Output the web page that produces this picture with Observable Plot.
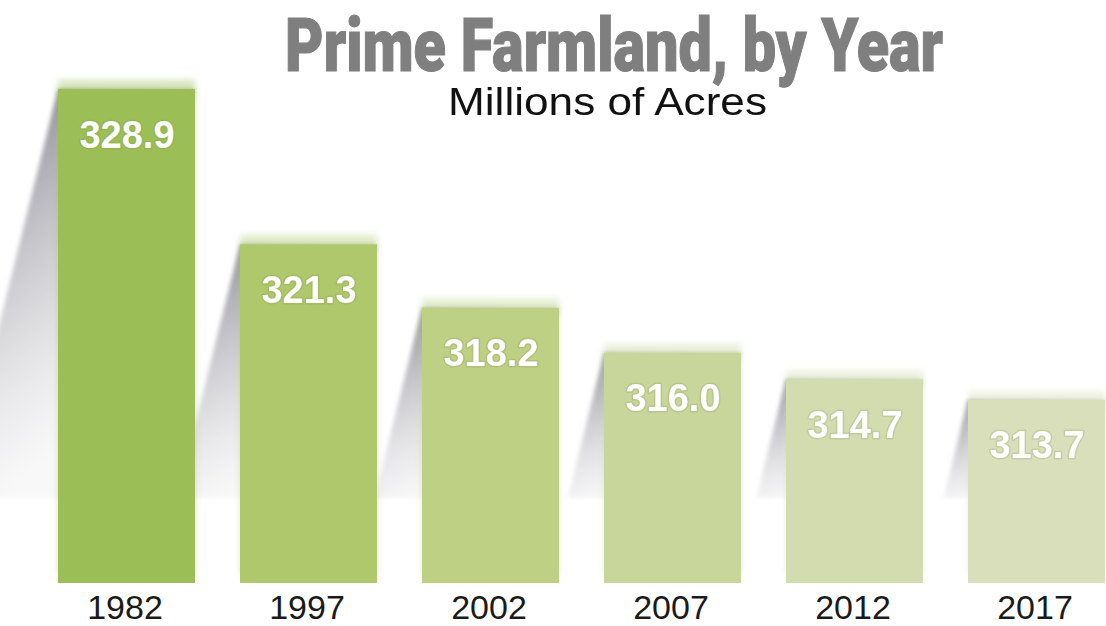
<!DOCTYPE html>
<html><head><meta charset="utf-8">
<script src="https://cdn.jsdelivr.net/npm/d3@7"></script>
<script src="https://cdn.jsdelivr.net/npm/@observablehq/plot@0.6"></script>
<style>
html,body{margin:0;padding:0;background:#fff;}
#wrap{position:relative;width:1106px;height:626px;overflow:hidden;}
#chart{position:absolute;left:0;top:0;}
#head{position:absolute;left:0;top:0;}
</style></head><body>
<div id="wrap"><div id="chart"></div>
<svg id="head" width="1106" height="130">
  <text id="title" x="285" y="71" font-family="Roboto,'DejaVu Sans',sans-serif" font-weight="900" font-size="75" fill="#7f7f7f" stroke="#7f7f7f" stroke-width="1.2" textLength="658" lengthAdjust="spacingAndGlyphs"></text>
  <text id="sub" x="448" y="115" font-family="'Liberation Sans',Arial,sans-serif" font-size="39" fill="#111" textLength="319" lengthAdjust="spacingAndGlyphs"></text>
</svg></div>
<script>
const years = ["1982", "1997", "2002", "2007", "2012", "2017"];
const acres = [328.9, 321.3, 318.2, 316.0, 314.7, 313.7];
const barColors = ["#9cbe56", "#afc86c", "#bdd084", "#c9d69b", "#d3dcaf", "#d9dfbb"];
const titleText = "Prime Farmland, by Year";
const subtitleText = "Millions of Acres";

const data = years.map((year, i) => ({year, value: acres[i]}));
const yDomain = [304.74, 333.25];
const base = yDomain[0];
const shadowFloor = 308.9;

document.getElementById("title").textContent = titleText;
document.getElementById("sub").textContent = subtitleText;

const plot = Plot.plot({
  width: 1106, height: 626,
  marginLeft: 57, marginRight: 0, marginTop: 0, marginBottom: 43,
  x: {type: "band", domain: years, paddingInner: 0.248, paddingOuter: 0, axis: null},
  y: {domain: yDomain, axis: null},
  color: {domain: years, range: barColors},
  style: {background: "transparent", fontFamily: "'Liberation Sans', Arial, sans-serif"},
  marks: [
    Plot.barY(data, {x: "year", y1: "value", y2: () => shadowFloor, fill: "url(#shadowGrad)", ariaDescription: "shadow"}),
    Plot.barY(data, {x: "year", y1: () => base, y2: "value", fill: "year", dy: -9, fillOpacity: 0.4, ariaDescription: "cap"}),
    Plot.barY(data, {x: "year", y1: () => base, y2: "value", fill: "year", ariaDescription: "bars"}),
    Plot.text(data, {x: "year", y: "value", text: d => d.value.toFixed(1), dy: 46, fill: "white",
      stroke: "#6f7f45", strokeOpacity: 0.18, strokeWidth: 3, fontSize: 38, fontWeight: "bold", lineAnchor: "middle"}),
    Plot.text(data, {x: "year", frameAnchor: "bottom", text: "year", dy: 25, dx: -2, fontSize: 34, fill: "#1a1a1a", lineAnchor: "middle"})
  ]
});

const svg = d3.select(plot);
const defs = svg.insert("defs", ":first-child");
const g = defs.append("linearGradient").attr("id", "shadowGrad")
  .attr("x1", 0).attr("y1", 0).attr("x2", 0.35).attr("y2", 1);
g.append("stop").attr("offset", 0).attr("stop-color", "#8a8a93").attr("stop-opacity", 0.9);
g.append("stop").attr("offset", 0.55).attr("stop-color", "#c0c0c6").attr("stop-opacity", 0.6);
g.append("stop").attr("offset", 1).attr("stop-color", "#e8e8ea").attr("stop-opacity", 0.3);
defs.append("filter").attr("id", "soft").attr("x", "-20%").attr("y", "-10%").attr("width", "140%").attr("height", "120%")
  .append("feGaussianBlur").attr("stdDeviation", 2);
defs.append("filter").attr("id", "capBlur").attr("x", "-20%").attr("y", "-10%").attr("width", "140%").attr("height", "120%")
  .append("feGaussianBlur").attr("stdDeviation", 3);

svg.select('g[aria-description="shadow"]').attr("filter", "url(#soft)")
  .selectAll("rect")
  .style("transform-box", "fill-box")
  .style("transform-origin", "100% 0")
  .style("transform", "skewX(-14deg)");
svg.select('g[aria-description="cap"]').attr("filter", "url(#capBlur)");

document.getElementById("chart").appendChild(plot);
</script>
</body></html>
